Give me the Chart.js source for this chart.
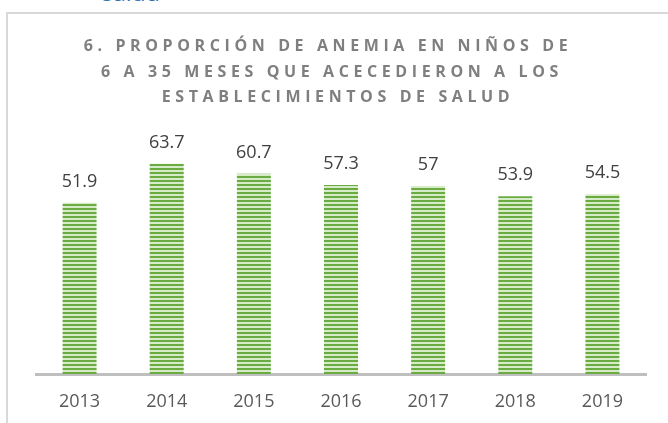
<!DOCTYPE html>
<html>
<head>
<meta charset="utf-8">
<script src="https://cdn.jsdelivr.net/npm/chart.js@4"></script>
<style>
  html, body { margin: 0; padding: 0; background: #ffffff; overflow: hidden; }
  #wrap { position: relative; width: 668px; height: 423px; }
  #frame { position: absolute; left: 6px; top: 12px; width: 670px; height: 430px; border: 2px solid #d9d9d9; box-sizing: border-box; }
  #above { position: absolute; left: 102px; top: -19px; font-family: "Open Sans", sans-serif; font-size: 23px; line-height: 23px; color: #2e74b5; }
  canvas { position: absolute; left: 0; top: 0; }
</style>
</head>
<body>
<div id="wrap">
  <div id="above">salud</div>
  <div id="frame"></div>
  <canvas id="c" width="668" height="423"></canvas>
</div>
<script>
const categories = ["2013", "2014", "2015", "2016", "2017", "2018", "2019"];
const values = [51.9, 63.7, 60.7, 57.3, 57, 53.9, 54.5];
const titleLines = [
  "6. PROPORCIÓN DE ANEMIA EN NIÑOS DE",
  "6 A 35 MESES QUE ACECEDIERON A LOS",
  "ESTABLECIMIENTOS DE SALUD"
];
const valueLabels = ["51.9", "63.7", "60.7", "57.3", "57", "53.9", "54.5"];

function stripePattern() {
  const p = document.createElement('canvas');
  p.width = 4; p.height = 4;
  const g = p.getContext('2d');
  g.fillStyle = '#d6ebc8';
  g.fillRect(0, 0, 4, 4);
  g.fillStyle = '#6aab42';
  g.fillRect(0, 0, 4, 2);
  return g.createPattern(p, 'repeat');
}

const titlePlugin = {
  id: 'spacedTitle',
  afterDraw(chart) {
    const ctx = chart.ctx;
    ctx.save();
    ctx.font = 'bold 16px "Open Sans", sans-serif';
    ctx.fillStyle = '#7f7f7f';
    ctx.textAlign = 'center';
    ctx.textBaseline = 'middle';
    ctx.letterSpacing = '4.6px';
    const ys = [46, 72, 97];
    const xs = [328, 332, 338];
    titleLines.forEach((t, i) => ctx.fillText(t, xs[i], ys[i]));
    ctx.restore();
  }
};

const labelPlugin = {
  id: 'valueLabels',
  afterDatasetsDraw(chart) {
    const ctx = chart.ctx;
    const meta = chart.getDatasetMeta(0);
    ctx.save();
    ctx.font = '18px "Open Sans", sans-serif';
    ctx.fillStyle = '#404040';
    ctx.textAlign = 'center';
    ctx.textBaseline = 'alphabetic';
    meta.data.forEach((bar, i) => {
      ctx.fillText(valueLabels[i], bar.x, bar.y - 16);
    });
    ctx.restore();
  }
};

new Chart(document.getElementById('c'), {
  type: 'bar',
  data: {
    labels: categories,
    datasets: [{
      data: values,
      backgroundColor: stripePattern(),
      borderWidth: 0,
      barPercentage: 0.39,
      categoryPercentage: 1
    }]
  },
  options: {
    responsive: false,
    animation: false,
    events: [],
    layout: { padding: { left: 36, right: 22, top: 143, bottom: 0 } },
    plugins: { legend: { display: false }, title: { display: false }, tooltip: { enabled: false } },
    scales: {
      y: { display: false, min: 0, max: 70 },
      x: {
        grid: { display: false, drawTicks: false },
        border: { display: true, color: '#bfbfbf', width: 3 },
        ticks: { color: '#595959', font: { family: '"Open Sans", sans-serif', size: 18 }, padding: 17, maxRotation: 0 },
        afterFit(s) { s.height = 49; }
      }
    }
  },
  plugins: [titlePlugin, labelPlugin]
});
</script>
</body>
</html>
